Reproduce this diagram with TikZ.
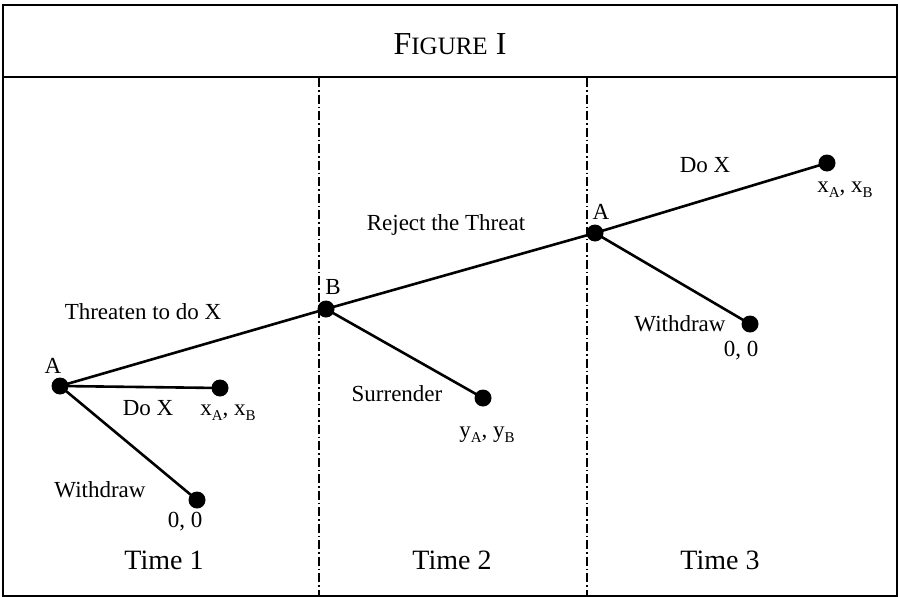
\documentclass[tikz,border=0pt]{standalone}
\usepackage{fontspec}
\setmainfont{Liberation Serif}
\newcommand{\sbs}[1]{\raisebox{-0.5ex}{\fontsize{15}{15}\selectfont #1}}
\tikzset{
  dot/.style={circle, fill=black, inner sep=0pt, minimum size=17pt},
  lab/.style={inner sep=0pt, font=\fontsize{23}{26}\selectfont},
  tlab/.style={inner sep=0pt, font=\fontsize{28}{32}\selectfont},
  ramo/.style={line width=2.6pt},
  tempo/.style={line width=1.6pt, dash pattern=on 9pt off 3pt on 1.5pt off 3pt}
}
\begin{document}
\begin{tikzpicture}[x=1pt, y=-1pt, thick]
        \useasboundingbox (0,0) rectangle (900,597);
        % cornice e intestazione
        \draw[line width=1.6pt] (3,5) rectangle (897,596);
        \draw[line width=1.6pt] (3,77) -- (897,77);
        \node (title_node) at (450,44) {\fontsize{32}{36}\selectfont F{\fontsize{25}{28}\selectfont IGURE} I};

        % linee dei tempi
        \coordinate (t1_top) at (319,78);
        \coordinate (t1_bot) at (319,597);
        \coordinate (t2_top) at (587,78);
        \coordinate (t2_bot) at (587,597);
        \draw[tempo] (t1_top) -- (t1_bot);
        \draw[tempo] (t2_top) -- (t2_bot);

        % nodi dell'albero
        \node[dot] (a1_node) at (60,386) {};
        \node[dot] (dox1_node) at (220,388) {};
        \node[dot] (w1_node) at (197,500) {};

        \node[dot] (b_node) at (326,309) {};
        \node[dot] (s_node) at (483,398) {};

        \node[dot] (a2_node) at (595,233) {};
        \node[dot] (dox2_node) at (827,163) {};
        \node[dot] (w2_node) at (750,324) {};

        \draw[ramo] (a1_node.center) -- (dox1_node.center);
        \draw[ramo] (a1_node.center) -- (w1_node.center);
        \draw[ramo] (a1_node.center) -- (b_node.center);
        \draw[ramo] (b_node.center) -- (s_node.center);
        \draw[ramo] (b_node.center) -- (a2_node.center);
        \draw[ramo] (a2_node.center) -- (dox2_node.center);
        \draw[ramo] (a2_node.center) -- (w2_node.center);

        % etichette
        \node[lab] (a1_label) at (53,366) {A};
        \node[lab] (dox1_label) at (148,408) {Do X};
        \node[lab] (pay1_label) at (228,413) {x\sbs{A}, x\sbs{B}};
        \node[lab] (w1_label) at (100,490) {Withdraw};
        \node[lab] (z1_label) at (185,522) {0, 0};
        \node[lab] (thr_label) at (143,312) {Threaten to do X};

        \node[lab] (b_label) at (333,287) {B};
        \node[lab] (rej_label) at (446,225) {Reject the Threat};
        \node[lab] (s_label) at (397,394) {Surrender};
        \node[lab] (pay2_label) at (487,435) {y\sbs{A}, y\sbs{B}};

        \node[lab] (a2_label) at (601,212) {A};
        \node[lab] (dox2_label) at (705,165) {Do X};
        \node[lab] (pay3_label) at (845,190) {x\sbs{A}, x\sbs{B}};
        \node[lab] (w2_label) at (680,324) {Withdraw};
        \node[lab] (z2_label) at (741,351) {0, 0};

        \node[tlab] (time1_node) at (164,560) {Time 1};
        \node[tlab] (time2_node) at (452,560) {Time 2};
        \node[tlab] (time3_node) at (720,560) {Time 3};
\end{tikzpicture}
\end{document}
